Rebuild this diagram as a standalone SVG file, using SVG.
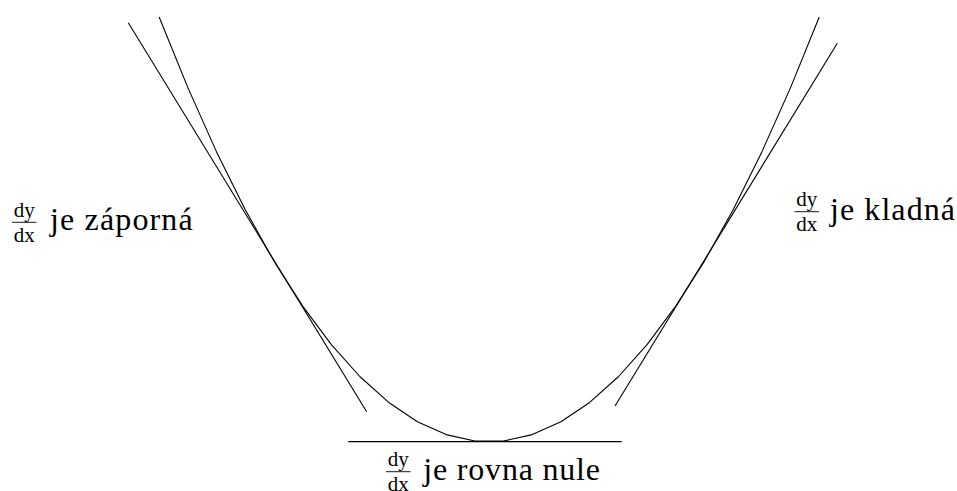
<svg xmlns="http://www.w3.org/2000/svg" width="957" height="491" viewBox="0 0 957 491">
<style>
.ln{fill:none;stroke:#000;stroke-width:1.1;stroke-linejoin:round}
.t{font-family:'Liberation Serif','DejaVu Serif','Noto Serif',serif;font-size:32px;fill:#000}
.f{font-family:'Liberation Serif','DejaVu Serif','Noto Serif',serif;font-size:21px;fill:#000;text-anchor:middle}
.bar{stroke:#000;stroke-width:0.9}
</style>
<rect width="957" height="491" fill="#fff"/>
<g id="curve">
<polyline class="ln" points="159.15,17.0 187.85,87.6 216.55,151.9 245.25,209.7 273.95,261.1 302.65,306.1 331.35,344.6 360.05,376.75 388.75,402.45 417.45,421.7 446.15,434.6 474.85,441.0 503.55,441.0 532.25,434.6 560.95,421.7 589.65,402.45 618.35,376.75 647.05,344.6 675.75,306.1 704.45,261.1 733.15,209.7 761.85,151.9 790.55,87.6 819.25,17.0"/>
</g>
<g id="tangents">
<line class="ln" x1="128.3" y1="22.7" x2="366.7" y2="411.7"/>
<line class="ln" x1="837.3" y1="43.3" x2="615" y2="406"/>
<line class="ln" x1="348.3" y1="441.6" x2="621.7" y2="441.6"/>
</g>
<g id="label-left">
<text class="f" x="24.3" y="216.8">dy</text>
<line class="bar" x1="12" y1="222.3" x2="36.5" y2="222.3"/>
<text class="f" x="24.3" y="241.8">dx</text>
<text class="t" x="50" y="230" textLength="142.7" lengthAdjust="spacing">je záporná</text>
</g>
<g id="label-right">
<text class="f" x="806.7" y="206.2">dy</text>
<line class="bar" x1="794.5" y1="211.7" x2="819" y2="211.7"/>
<text class="f" x="806.7" y="231.2">dx</text>
<text class="t" x="830" y="219.5" textLength="125" lengthAdjust="spacing">je kladná</text>
</g>
<g id="label-bottom">
<text class="f" x="398.3" y="466.2">dy</text>
<line class="bar" x1="386" y1="471.7" x2="410.5" y2="471.7"/>
<text class="f" x="398.3" y="491.2">dx</text>
<text class="t" x="423.3" y="479.5" textLength="176.7" lengthAdjust="spacing">je rovna nule</text>
</g>
</svg>
